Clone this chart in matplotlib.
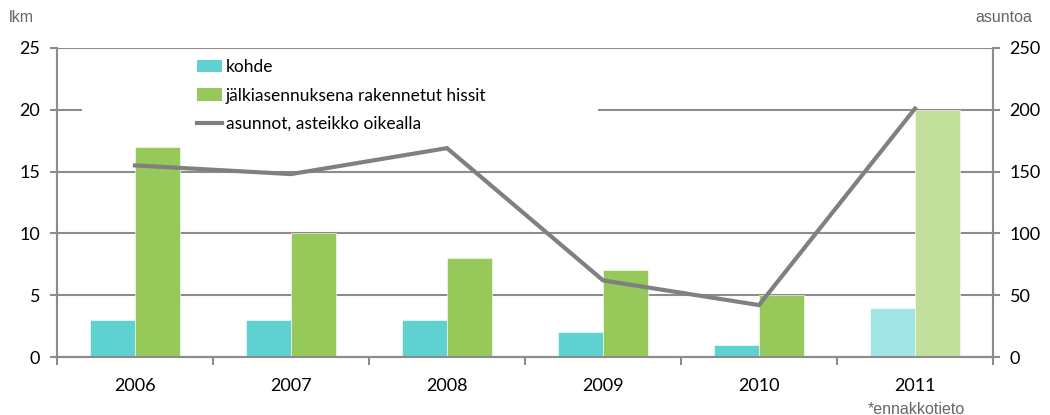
import matplotlib
matplotlib.use("Agg")
import matplotlib.pyplot as plt
from matplotlib.patches import Rectangle, Patch
from matplotlib.lines import Line2D
import numpy as np

years = ["2006", "2007", "2008", "2009", "2010", "2011"]
kohde = [3, 3, 3, 2, 1, 4]
hissit = [17, 10, 8, 7, 5, 20]
asunnot = [155, 148, 169, 62, 42, 201]

c_kohde = ["#5FD1D1"] * 5 + ["#A2E3E3"]
c_hissit = ["#96C85A"] * 5 + ["#C2DF9B"]
grid_c = "#8C8C8C"
line_c = "#808080"

plt.rcParams['font.family'] = ['Lato', 'DejaVu Sans']

fig = plt.figure(figsize=(10.5, 4.15), dpi=100)
ax = fig.add_axes([57/1050, 1-357/415, (993-57)/1050, (357-48)/415])
ax2 = ax.twinx()

x = np.arange(len(years))
w = 0.288
ax.bar(x - w/2, kohde, w, color=c_kohde, edgecolor="white", linewidth=0.4, zorder=3)
ax.bar(x + w/2, hissit, w, color=c_hissit, edgecolor="white", linewidth=0.4, zorder=3)
ax2.plot(x, asunnot, color=line_c, linewidth=3, zorder=4, solid_joinstyle="miter")

ax.set_xlim(-0.5, 5.5)
ax.set_ylim(0, 25)
ax2.set_ylim(0, 250)
ax.set_yticks(range(0, 26, 5))
ax2.set_yticks(range(0, 251, 50))
ax.set_axisbelow(True)
ax.yaxis.grid(True, color=grid_c, linewidth=1.5, zorder=0)

ax.set_xticks(x)
ax.set_xticklabels(years)
ax.set_xticks(np.arange(-0.5, 6, 1), minor=True)
ax.tick_params(axis="x", which="major", length=0, pad=15, labelsize=13)
ax.tick_params(axis="x", which="minor", length=6, width=1.5, color=grid_c, direction="out")
ax.tick_params(axis="y", length=5, width=1.5, color=grid_c, pad=7, labelsize=13)
ax2.tick_params(axis="y", length=5, width=1.5, color=grid_c, pad=7, labelsize=13)

for a in (ax, ax2):
    a.spines["top"].set_visible(False)
    for s in ("left", "right", "bottom"):
        a.spines[s].set_color(grid_c)
        a.spines[s].set_linewidth(1.5)

# white box behind legend hiding gridlines
box = Rectangle((82/1050, 1-140/415), (598-82)/1050, (140-54)/415,
                transform=fig.transFigure, facecolor="white",
                edgecolor="none", zorder=1, clip_on=False)
ax.add_patch(box)

handles = [Patch(facecolor=c_kohde[0]), Patch(facecolor=c_hissit[0]),
           Line2D([0], [0], color=line_c, linewidth=3)]
labels = ["kohde", "jälkiasennuksena rakennetut hissit", "asunnot, asteikko oikealla"]
leg = ax2.legend(handles, labels, loc="upper left",
                 bbox_to_anchor=(197/1050, 1-59/415), bbox_transform=fig.transFigure,
                 frameon=False, fontsize=12.5, handlelength=1.45, handleheight=0.75,
                 handletextpad=0.2, labelspacing=0.72, borderpad=0, borderaxespad=0)

fig.text(9/1050, 1-18/415, "lkm", color="#666666", fontsize=11.5,
         family="Liberation Sans", ha="left", va="center")
fig.text(1032/1050, 1-18/415, "asuntoa", color="#666666", fontsize=11.5,
         family="Liberation Sans", ha="right", va="center")
fig.text(916/1050, 1-409/415, "*ennakkotieto", color="#666666", fontsize=11.5,
         family="Liberation Sans", ha="center", va="center")

fig.savefig("out.png", dpi=100)
